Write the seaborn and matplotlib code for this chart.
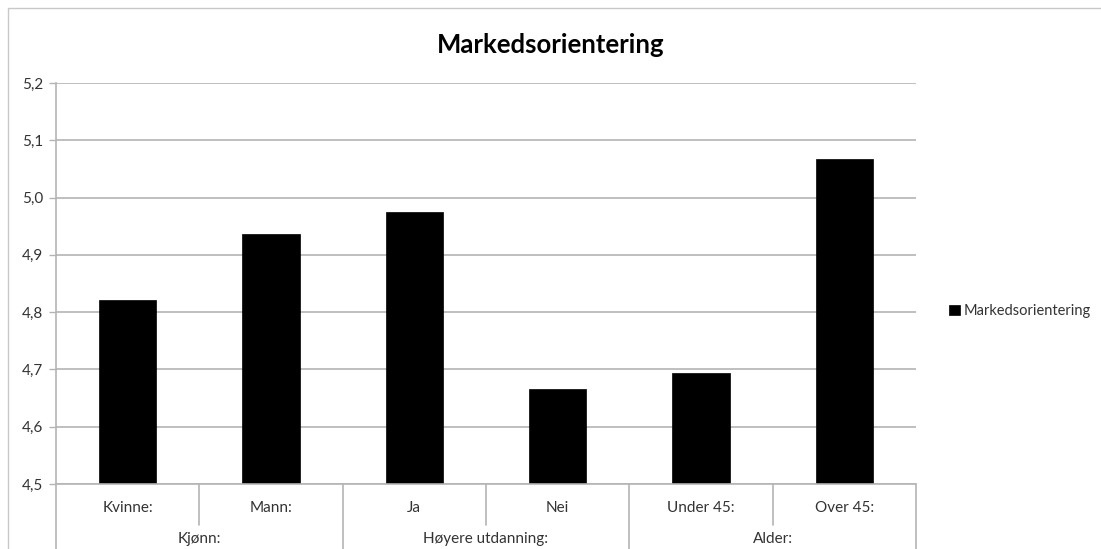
import matplotlib
matplotlib.use("Agg")
import matplotlib.pyplot as plt
import matplotlib.transforms as mtransforms
from matplotlib.patches import Rectangle
import seaborn as sns
import pandas as pd

# Chart data
categories = ["Kvinne:", "Mann:", "Ja", "Nei", "Under 45:", "Over 45:"]
groups = ["Kjønn:", "Høyere utdanning:", "Alder:"]
group_sizes = [2, 2, 2]
values = [4.822, 4.936, 4.975, 4.666, 4.694, 5.068]
series_name = "Markedsorientering"
y_ticks = [4.5, 4.6, 4.7, 4.8, 4.9, 5.0, 5.1, 5.2]

sns.set_theme(style="white")
plt.rcParams["font.family"] = ["Lato", "DejaVu Sans"]

W, H = 1101, 549
fig = plt.figure(figsize=(W / 100, H / 100), dpi=100)
ax = fig.add_axes([56 / W, 1 - 484 / H, (916 - 56) / W, (484 - 83) / H])

df = pd.DataFrame({"Kategori": categories, "Verdi": values})
sns.barplot(data=df, x="Kategori", y="Verdi", color="black", width=0.4,
            saturation=1, edgecolor="black", linewidth=0.5, ax=ax,
            label=series_name)

ax.set_ylim(y_ticks[0], y_ticks[-1])
ax.set_xlim(-0.5, len(categories) - 0.5)
ax.set_yticks(y_ticks)
ax.set_yticklabels([f"{t:.1f}".replace(".", ",") for t in y_ticks],
                   fontsize=11, color="#333333")
ax.set_xticks([])
ax.set_xlabel("")
ax.set_ylabel("")

grid_col = "#b4b4b4"
ax.yaxis.grid(True, color=grid_col, linewidth=1.2)
ax.set_axisbelow(True)
ax.tick_params(axis="y", length=5, width=1, color=grid_col, pad=4, left=True)
for side in ["top", "right", "bottom"]:
    ax.spines[side].set_visible(False)
ax.spines["left"].set_color(grid_col)
ax.spines["left"].set_linewidth(1.2)

# Two-level category axis
trans = mtransforms.blended_transform_factory(ax.transData, fig.transFigure)
y_base = 1 - 484 / H
y_short = 1 - 525 / H
line_kw = dict(color=grid_col, linewidth=1.2, transform=trans, clip_on=False)

ax.plot([-0.5, len(categories) - 0.5], [y_base, y_base], **line_kw)
bounds = [-0.5]
for n in group_sizes:
    bounds.append(bounds[-1] + n)
for b in bounds:
    ax.plot([b, b], [y_base, 0], **line_kw)
for i in range(len(categories) - 1):
    b = i + 0.5
    if b not in bounds:
        ax.plot([b, b], [y_base, y_short], **line_kw)

for i, c in enumerate(categories):
    ax.text(i, 1 - 508 / H, c, transform=trans, ha="center", va="center",
            fontsize=11, color="#333333")
start = 0
for g, n in zip(groups, group_sizes):
    ax.text(start + (n - 1) / 2, 1 - 539 / H, g, transform=trans,
            ha="center", va="center", fontsize=11, color="#333333")
    start += n

# Title
fig.text(0.5, 1 - 45 / H, series_name, ha="center", va="center",
         fontsize=18.5, fontweight="bold", color="black")

# Legend
handles, labels = ax.get_legend_handles_labels()
fig.legend(handles[:1], labels[:1], loc="center left",
           bbox_to_anchor=(942 / W, 1 - 311 / H), frameon=False,
           handlelength=0.7, handleheight=0.7, handletextpad=0.3,
           fontsize=10.5, labelcolor="#333333", borderpad=0)
if ax.get_legend() is not None:
    ax.get_legend().remove()

# Chart area frame
fig.patches.append(Rectangle((8 / W, -0.1), 1.1, 1 - 8 / H + 0.1,
                             transform=fig.transFigure, fill=False,
                             edgecolor="#c8c8c8", linewidth=1.0))

fig.savefig("out.png", dpi=100)
